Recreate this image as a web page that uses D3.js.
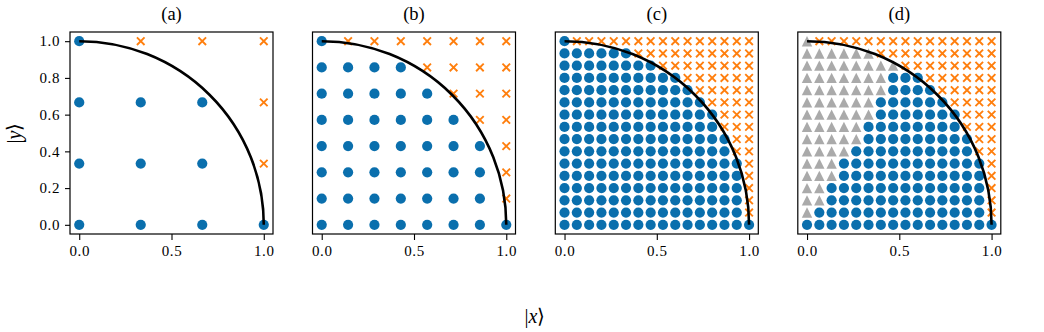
<!DOCTYPE html>
<html>
<head>
<meta charset="utf-8">
<script src="https://cdn.jsdelivr.net/npm/d3@7"></script>
<style>
  html, body { margin: 0; padding: 0; background: #fff; }
  svg { display: block; }
  svg text { font-family: "Liberation Serif", "Times New Roman", serif !important; fill: #000; }
</style>
</head>
<body>
<svg id="chart" width="1044" height="332"></svg>
<script>
// ---------------- data ----------------
const panelTitles = ["(a)", "(b)", "(c)", "(d)"];
const xTickValues = [0, 0.5, 1.0];
const xTickLabels = ["0.0", "0.5", "1.0"];
const yTickValues = [0, 0.2, 0.4, 0.6, 0.8, 1.0];
const yTickLabels = ["0.0", "0.2", "0.4", "0.6", "0.8", "1.0"];
const circleRadius = 1.0;

const gridA = [0, 0.3333, 0.6667, 1];
const gridB = [0, 0.1429, 0.2857, 0.4286, 0.5714, 0.7143, 0.8571, 1];
const gridC = [0, 0.0667, 0.1333, 0.2, 0.2667, 0.3333, 0.4, 0.4667,
               0.5333, 0.6, 0.6667, 0.7333, 0.8, 0.8667, 0.9333, 1];

// Point classes, rows listed from top (y = 1) to bottom (y = 0).
// o = inside (blue circle), x = outside (orange cross), t = grey triangle
const classesA = [
  "oxxx",
  "ooox",
  "ooox",
  "oooo"
];
const classesB = [
  "oxxxxxxx",
  "ooooxxxx",
  "oooooxxx",
  "ooooooxx",
  "ooooooox",
  "ooooooox",
  "ooooooox",
  "oooooooo"
];
const classesC = [
  "oxxxxxxxxxxxxxxx",
  "ooooooxxxxxxxxxx",
  "ooooooooxxxxxxxx",
  "ooooooooooxxxxxx",
  "oooooooooooxxxxx",
  "ooooooooooooxxxx",
  "oooooooooooooxxx",
  "oooooooooooooxxx",
  "ooooooooooooooxx",
  "ooooooooooooooxx",
  "ooooooooooooooox",
  "ooooooooooooooox",
  "ooooooooooooooox",
  "ooooooooooooooox",
  "ooooooooooooooox",
  "oooooooooooooooo"
];
const classesD = [
  "txxxxxxxxxxxxxxx",
  "ttttttxxxxxxxxxx",
  "ttttttttxxxxxxxx",
  "tttttttoooxxxxxx",
  "tttttttooooxxxxx",
  "ttttttooooooxxxx",
  "ttttttoooooooxxx",
  "tttttooooooooxxx",
  "tttttoooooooooxx",
  "ttttooooooooooxx",
  "tttoooooooooooox",
  "tttoooooooooooox",
  "ttooooooooooooox",
  "ttooooooooooooox",
  "toooooooooooooox",
  "oooooooooooooooo"
];

const panels = [
  { title: panelTitles[0], grid: gridA, classes: classesA },
  { title: panelTitles[1], grid: gridB, classes: classesB },
  { title: panelTitles[2], grid: gridC, classes: classesC },
  { title: panelTitles[3], grid: gridC, classes: classesD }
];

// ---------------- style / layout ----------------
const COLORS = { o: "#0a6fad", x: "#ff7f0e", t: "#aaaaaa" };
const panelLefts = [70, 312.5, 555.3, 797.8];
const panelW = 203, panelTop = 32, panelH = 202;

const svg = d3.select("#chart");

function makePoints(p) {
  const n = p.grid.length;
  const pts = [];
  p.classes.forEach((row, r) => {
    const yv = p.grid[n - 1 - r];
    row.split("").forEach((c, i) => {
      pts.push({ x: p.grid[i], y: yv, c: c });
    });
  });
  return pts;
}

panels.forEach((p, k) => {
  const left = panelLefts[k];
  const x = d3.scaleLinear().domain([-0.05, 1.05]).range([left, left + panelW]);
  const y = d3.scaleLinear().domain([-0.05, 1.05]).range([panelTop + panelH, panelTop]);
  const g = svg.append("g");
  const pts = makePoints(p);

  g.selectAll("circle.in").data(pts.filter(d => d.c === "o")).join("circle")
    .attr("class", "in")
    .attr("cx", d => x(d.x)).attr("cy", d => y(d.y))
    .attr("r", 5.1).attr("fill", COLORS.o);

  g.selectAll("path.tri").data(pts.filter(d => d.c === "t")).join("path")
    .attr("class", "tri")
    .attr("transform", d => `translate(${x(d.x)},${y(d.y)})`)
    .attr("d", "M0,-5.2L5.2,5.2L-5.2,5.2Z")
    .attr("fill", COLORS.t);

  g.selectAll("path.out").data(pts.filter(d => d.c === "x")).join("path")
    .attr("class", "out")
    .attr("transform", d => `translate(${x(d.x)},${y(d.y)})`)
    .attr("d", "M-3.8,-3.8L3.8,3.8M-3.8,3.8L3.8,-3.8")
    .attr("stroke", COLORS.x).attr("stroke-width", 1.9).attr("fill", "none");

  const rx = x(circleRadius) - x(0), ry = y(0) - y(circleRadius);
  g.append("path")
    .attr("d", `M${x(0)},${y(circleRadius)} A${rx},${ry} 0 0 1 ${x(circleRadius)},${y(0)}`)
    .attr("fill", "none").attr("stroke", "#000").attr("stroke-width", 2.6);

  g.append("rect")
    .attr("x", left).attr("y", panelTop).attr("width", panelW).attr("height", panelH)
    .attr("fill", "none").attr("stroke", "#000").attr("stroke-width", 1.2);

  const xa = g.append("g").attr("transform", `translate(0,${panelTop + panelH})`)
    .call(d3.axisBottom(x).tickValues(xTickValues)
      .tickFormat((d, i) => xTickLabels[i]).tickSize(6).tickPadding(5));
  xa.select(".domain").remove();
  xa.selectAll("line").attr("stroke", "#000").attr("stroke-width", 1.1);
  xa.selectAll("text").style("font-size", "15px").style("letter-spacing", "0.6px");

  if (k === 0) {
    const ya = g.append("g").attr("transform", `translate(${left},0)`)
      .call(d3.axisLeft(y).tickValues(yTickValues)
        .tickFormat((d, i) => yTickLabels[i]).tickSize(5).tickPadding(5));
    ya.select(".domain").remove();
    ya.selectAll("line").attr("stroke", "#000").attr("stroke-width", 1.1);
    ya.selectAll("text").style("font-size", "15px").style("letter-spacing", "0.6px");
  }

  g.append("text")
    .attr("x", left + panelW / 2).attr("y", 20)
    .attr("text-anchor", "middle").style("font-size", "18.5px")
    .text(p.title);
});

const xl = svg.append("text").attr("x", 535).attr("y", 323)
  .attr("text-anchor", "middle").style("font-size", "20px");
xl.append("tspan").text("|");
xl.append("tspan").style("font-style", "italic").text("x");
xl.append("tspan").text("\u27E9");

const yl = svg.append("text")
  .attr("transform", "translate(21,133) rotate(-90)")
  .attr("text-anchor", "middle").style("font-size", "20px");
yl.append("tspan").text("|");
yl.append("tspan").style("font-style", "italic").text("y");
yl.append("tspan").text("\u27E9");
</script>
</body>
</html>
